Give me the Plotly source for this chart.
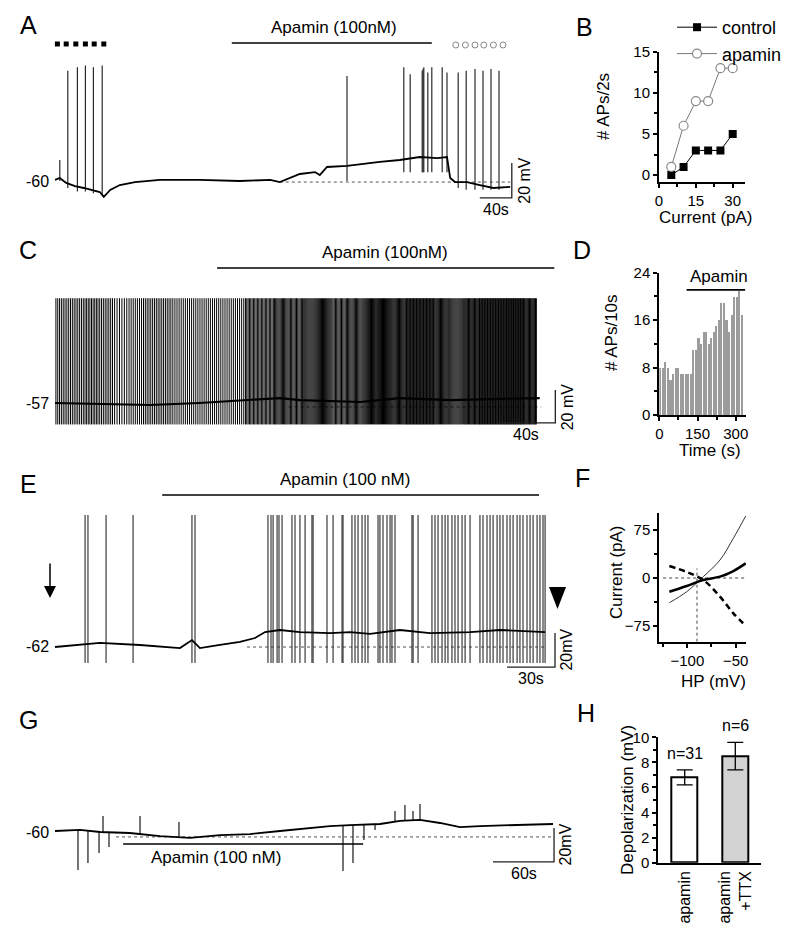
import numpy as np
import plotly.graph_objects as go

W, H = 800, 947
OFF = 8  # page offset of the figure inside the browser window
FONT = "Liberation Sans, Arial, sans-serif"

# ================= DATA =================
# ---- Panel A: membrane potential (mV) vs time (s) ----
a_base_t = [0, 6, 14, 25, 36, 46, 56, 61, 69, 81, 100, 131, 181, 231, 269, 281, 306, 325, 331, 340,
            365, 406, 431, 456, 478, 490, 494, 500, 515, 531, 548, 569]
a_base_v = [-59.4, -58.3, -61.1, -62.9, -64.0, -65.1, -66.3, -69.1, -65.1, -62.3, -60.6, -59.4, -59.4,
            -60.0, -59.4, -60.6, -56.0, -54.9, -56.6, -52.0, -51.4, -49.1, -48.0, -46.3, -46.9, -46.3,
            -58.3, -60.6, -60.6, -62.3, -64.0, -63.4]
a_spk_t = [6, 16, 28, 38, 48, 59, 365, 436, 444, 459, 460, 461, 466, 471, 484, 490,
           504, 514, 525, 535, 545, 555]
a_spk_peak = [-48, 3, 5, 6, 5, 6, 0, 5, 1, 3, 4, 5, 2, 5, 5, 2, 2, 3, 4, 3, 4, 3]
a_spk_trough = [-60, -64, -66, -66, -67, -68, -60, -55, -55, -55, -55, -55, -55, -55, -55, -55,
                -64, -65, -65, -65, -65, -65]
a_ctrl_marks_t = [3, 14, 26, 38, 49, 61]
a_apa_marks_t = [501, 513, 525, 536, 548, 560]
a_apamin_on, a_apamin_off = 221, 471

# ---- Panel B ----
b_current = [5, 10, 15, 20, 25, 30]
b_control = [0, 1, 3, 3, 3, 5]
b_apamin = [1, 6, 9, 9, 13, 13]

# ---- Panel C ----
c_base_t = [0, 65, 99, 154, 168, 209, 236, 271, 332]
c_base_v = [-57.0, -58.2, -57.0, -54.0, -55.2, -56.4, -54.0, -55.2, -54.0]
c_spk_peak = 6.5
c_spk_trough = -70
c_apamin_on, c_apamin_off = 111, 342

# ---- Panel D: APs per 10 s bin ----
d_counts = [8, 8, 9, 8, 6, 7, 8, 8, 7, 7, 7, 7, 7, 11, 11, 13, 12, 14, 14, 12, 13, 14, 15, 16,
            19, 19, 16, 14, 17, 20, 20, 21, 17]
d_bin_width = 10
d_apamin_on, d_apamin_off = 107, 337

# ---- Panel E ----
e_base_t = [0, 15.6, 28.1, 53.1, 78.1, 85.6, 90.6, 103.1, 115.6, 125, 131.3, 140.6, 153.1, 171.9,
            184.4, 196.9, 215.6, 234.4, 259.4, 278.1, 306.3]
e_base_v = [-62.6, -61.4, -60.2, -61.4, -63.2, -58.5, -63.2, -61.4, -59.6, -57.3, -53.8, -52.6, -53.8,
            -54.4, -53.8, -54.9, -52.6, -54.4, -53.8, -52.6, -53.8]
e_spk_t = [18.8, 20.6, 31.9, 48.8, 85.6, 87.5, 133.1, 135, 136.3, 138.8, 140, 141.9, 148.1, 150, 153.1,
           156.3, 160.6, 161.3, 170, 173.8, 179.4, 180, 185.6, 187.5, 189.4, 191.9, 193.8, 195.6,
           201.9, 203.1, 205, 207.5, 209.4, 210.6, 212.5, 223.1, 223.8, 226.9, 235.6, 237.5, 239.4,
           241.9, 243.8, 245.6, 248.1, 250, 251.9, 254.4, 256.3, 259.4, 265.6, 267.5, 270, 271.9,
           273.8, 276.3, 278.1, 280, 282.5, 284.4, 286.3, 288.8, 290.6, 292.5, 295, 296.9, 298.8,
           301.3, 303.1, 305, 306.3]
e_spk_peak = 15
e_spk_trough = -72
e_apamin_on, e_apamin_off = 67, 302.5

# ---- Panel F: I-V ----
f_hp = [-118.6, -100.7, -83.5, -66.2, -52.4, -39.6]
f_thin = [-38.6, -21.4, 2.1, 28.1, 62.0, 96.9]
f_thick = [-21.4, -12.5, -3.1, 2.1, 10.9, 22.9]
f_dashed = [18.7, 9.4, -3.1, -29.2, -55.2, -74.5]
f_reversal = -90

# ---- Panel G ----
g_base_t = [0, 24.6, 44.2, 73.7, 103.2, 132.7, 162.2, 191.7, 221.2, 240.9, 270.4, 290.1, 319.6,
            339.3, 358.9, 378.6, 398.2, 417.9, 457.2, 489.7]
g_base_v = [-59.4, -58.8, -60.0, -60.6, -62.4, -63.5, -61.8, -61.2, -59.4, -58.2, -56.5, -55.9,
            -55.3, -53.5, -52.9, -54.7, -57.1, -56.5, -55.9, -55.3]
g_evt_t = [22.6, 32.4, 43.3, 53.1, 283.2, 293.0, 303.8, 314.7, 47.2, 83.6, 121.9, 334.3, 344.1, 352.0, 358.9]
g_evt_tip = [-82.4, -78.2, -72.4, -68.8, -82.9, -78.2, -64.7, -58.8, -50.6, -50.6, -54.1, -47.6, -44.1, -47.6, -43.5]
g_apamin_on, g_apamin_off = 67, 303

# ---- Panel H ----
h_groups = ["apamin", "apamin<br>+TTX"]
h_mean = [6.8, 8.5]
h_sem = [0.6, 1.1]
h_n = ["n=31", "n=6"]

# ================= HELPERS =================
def px(x):
    return (x - OFF) / W

def py(y):
    return 1 - (y - OFF) / H

def xd(a, b):
    return [px(a), px(b)]

def yd(top, bot):
    return [py(bot), py(top)]

def trace_axes(box, px0, pxs, py0, v0, pyv):
    xl, xr, yt, yb = box
    xa = dict(domain=xd(xl, xr), range=[(xl - px0) / pxs, (xr - px0) / pxs], visible=False, fixedrange=True)
    ya = dict(domain=yd(yt, yb), range=[v0 - (yb - py0) / pyv, v0 + (py0 - yt) / pyv], visible=False,
              fixedrange=True)
    return xa, ya

def spikes_xy(ts, peaks, troughs):
    xs, ys = [], []
    for t, p, q in zip(ts, peaks, troughs):
        xs += [t, t, None]
        ys += [q, p, None]
    return xs, ys

def axstyle(**kw):
    d = dict(showline=True, linecolor="black", linewidth=2, ticks="outside", ticklen=4, tickwidth=1.5,
             tickcolor="black", showgrid=False, zeroline=False, tickfont=dict(size=15, color="black"),
             fixedrange=True, automargin=False)
    d.update(kw)
    return d

MINOR = dict(ticks="outside", ticklen=3, tickwidth=1.5, tickcolor="black")

fig = go.Figure()
ann = []
shapes = []
SPK = "#2a2a2a"

def note(**kw):
    d = dict(showarrow=False, xanchor="center", yanchor="middle")
    d.update(kw)
    ann.append(d)

def add_line(x, y, ax, color="black", width=1, dash=None, shape="linear"):
    fig.add_trace(go.Scatter(x=x, y=y, mode="lines", xaxis=ax[0], yaxis=ax[1], showlegend=False,
                             hoverinfo="skip", line=dict(color=color, width=width, dash=dash, shape=shape)))

def scalebar(ax, t0, v0, dt, dv):
    add_line([t0, t0 + dt, t0 + dt], [v0, v0, v0 + dv], ax, color="#222", width=1.3)

# ================= PANEL A =================
AX = ("x", "y")
xa1, ya1 = trace_axes((20, 578, 15, 225), 55, 0.8, 181, -60, 1.75)
add_line([281, 569], [-60.6, -60.6], AX, color="#555", width=1, dash="dot")
sx, sy = spikes_xy(a_spk_t, a_spk_peak, a_spk_trough)
add_line(sx, sy, AX, color=SPK, width=1.2)
add_line(a_base_t, a_base_v, AX, width=1.8)
fig.add_trace(go.Scatter(x=a_ctrl_marks_t, y=[18.3] * len(a_ctrl_marks_t), mode="markers", xaxis="x", yaxis="y",
                         showlegend=False, hoverinfo="skip",
                         marker=dict(symbol="square", size=5, color="black")))
fig.add_trace(go.Scatter(x=a_apa_marks_t, y=[17.7] * len(a_apa_marks_t), mode="markers", xaxis="x", yaxis="y",
                         showlegend=False, hoverinfo="skip",
                         marker=dict(symbol="circle-open", size=6, color="#888", line=dict(width=1))))
add_line([a_apamin_on, a_apamin_off], [18.9, 18.9], AX, width=1.6)
note(x=(a_apamin_on + a_apamin_off) / 2 + 3, y=18.9, xref="x", yref="y", text="Apamin (100nM)",
     yanchor="bottom", yshift=4, font=dict(size=17))
scalebar(AX, 531, -69.7, 40, 20)
note(x=551, y=-69.7, xref="x", yref="y", text="40s", yanchor="top", yshift=-1, font=dict(size=16))
note(x=571, y=-59.7, xref="x", yref="y", text="20 mV", textangle=-90, xanchor="left", xshift=2,
     font=dict(size=16))
note(x=px(51), y=-60, xref="paper", yref="y", text="-60", xanchor="right", font=dict(size=16))

# ================= PANEL B =================
fig.add_trace(go.Scatter(x=b_current, y=b_control, mode="lines+markers", name="control", xaxis="x2", yaxis="y2",
                         line=dict(color="black", width=1),
                         marker=dict(symbol="square", size=8, color="black")))
fig.add_trace(go.Scatter(x=b_current, y=b_apamin, mode="lines+markers", name="apamin", xaxis="x2", yaxis="y2",
                         line=dict(color="#777", width=1),
                         marker=dict(symbol="circle", size=9, color="white", line=dict(color="#888", width=1.2))))
xa2 = axstyle(domain=xd(659, 745), range=[0, 35], tickvals=[0, 15, 30],
              minor=dict(tickvals=[7.5, 22.5], **MINOR), anchor="y2")
ya2 = axstyle(domain=yd(51.7, 181.7), range=[-0.8, 15], tickvals=[0, 5, 10, 15],
              minor=dict(tickvals=[2.5, 7.5, 12.5], **MINOR), anchor="x2")
note(x=px(604), y=py(107), xref="paper", yref="paper", text="# APs/2s", textangle=-90, font=dict(size=17))
note(x=px(706), y=py(217), xref="paper", yref="paper", text="Current (pA)", font=dict(size=17))

# ================= PANEL C =================
AX = ("x3", "y3")
xa3, ya3 = trace_axes((20, 578, 235, 455), 55, 1.46, 403, -57, 1.65)
c_spk_t = []
for i, n in enumerate(d_counts):
    for k in range(n):
        c_spk_t.append(i * d_bin_width + (k + 0.5) * d_bin_width / n)
sx, sy = spikes_xy(c_spk_t, [c_spk_peak] * len(c_spk_t), [c_spk_trough] * len(c_spk_t))
add_line([160, 333], [-59.4, -59.4], AX, color="#555", width=1, dash="dot")
add_line(sx, sy, AX, color="black", width=1.0)
add_line(c_base_t, c_base_v, AX, width=2.2)
add_line([c_apamin_on, c_apamin_off], [24.8, 24.8], AX, width=1.6)
note(x=226, y=24.8, xref="x3", yref="y3", text="Apamin (100nM)", yanchor="bottom", yshift=4, font=dict(size=17))
scalebar(AX, 302.7, -69.1, 40, 20)
note(x=322.7, y=-69.1, xref="x3", yref="y3", text="40s", yanchor="top", yshift=-1, font=dict(size=16))
note(x=342.7, y=-59.1, xref="x3", yref="y3", text="20 mV", textangle=-90, xanchor="left", xshift=2,
     font=dict(size=16))
note(x=px(51), y=-57, xref="paper", yref="y3", text="-57", xanchor="right", font=dict(size=16))

# ================= PANEL D =================
d_x = [i * d_bin_width + d_bin_width / 2 for i in range(len(d_counts))]
fig.add_trace(go.Bar(x=d_x, y=d_counts, width=d_bin_width * 0.82, xaxis="x4", yaxis="y4", showlegend=False,
                     marker=dict(color="#9c9c9c", line=dict(width=0)), hoverinfo="skip"))
fig.add_trace(go.Scatter(x=[d_apamin_on, d_apamin_off], y=[21.1, 21.1], mode="lines", xaxis="x4", yaxis="y4",
                         showlegend=False, hoverinfo="skip", line=dict(color="black", width=1.6)))
xa4 = axstyle(domain=xd(659.3, 745.7), range=[0, 339], tickvals=[0, 150, 300],
              minor=dict(tickvals=[75, 225], **MINOR), anchor="y4")
ya4 = axstyle(domain=yd(272.7, 415), range=[0, 24], tickvals=[0, 8, 16, 24],
              minor=dict(tickvals=[4, 12, 20], **MINOR), anchor="x4")
note(x=236, y=21.1, xref="x4", yref="y4", text="Apamin", yanchor="bottom", yshift=2, font=dict(size=17))
note(x=px(611), y=py(333), xref="paper", yref="paper", text="# APs/10s", textangle=-90, font=dict(size=17))
note(x=px(710), y=py(451), xref="paper", yref="paper", text="Time (s)", font=dict(size=17))

# ================= PANEL E =================
AX = ("x5", "y5")
xa5, ya5 = trace_axes((20, 578, 470, 690), 55, 1.6, 646, -62, 1.7)
add_line([120, 307], [-62.6, -62.6], AX, color="#555", width=1, dash="dot")
sx, sy = spikes_xy(e_spk_t, [e_spk_peak] * len(e_spk_t), [e_spk_trough] * len(e_spk_t))
add_line(sx, sy, AX, color=SPK, width=1.1)
add_line(e_base_t, e_base_v, AX, width=1.8)
add_line([e_apamin_on, e_apamin_off], [26.8, 26.8], AX, width=1.6)
note(x=181, y=26.8, xref="x5", yref="y5", text="Apamin (100 nM)", yanchor="bottom", yshift=4, font=dict(size=17))
scalebar(AX, 282.5, -74.4, 30, 20)
note(x=297.5, y=-74.4, xref="x5", yref="y5", text="30s", yanchor="top", yshift=-1, font=dict(size=16))
note(x=312.5, y=-64.4, xref="x5", yref="y5", text="20mV", textangle=-90, xanchor="left", xshift=1,
     font=dict(size=16))
note(x=px(51), y=-62, xref="paper", yref="y5", text="-62", xanchor="right", font=dict(size=16))
ann.append(dict(x=px(50), y=py(598), ax=0, ay=-36, xref="paper", yref="paper", text="", showarrow=True,
                arrowhead=2, arrowsize=1.6, arrowwidth=1.5, arrowcolor="black"))
shapes.append(dict(type="path", xref="paper", yref="paper", fillcolor="black", line=dict(width=0),
                   path=f"M {px(549)},{py(587)} L {px(566)},{py(587)} L {px(557.5)},{py(609)} Z"))

# ================= PANEL F =================
fig.add_trace(go.Scatter(x=[-125, -40], y=[0, 0], mode="lines", xaxis="x6", yaxis="y6", showlegend=False,
                         hoverinfo="skip", line=dict(color="#444", width=1, dash="dot")))
fig.add_trace(go.Scatter(x=[f_reversal, f_reversal], y=[-99.5, 15], mode="lines", xaxis="x6", yaxis="y6",
                         showlegend=False, hoverinfo="skip", line=dict(color="#444", width=1, dash="dot")))
fig.add_trace(go.Scatter(x=f_hp, y=f_thin, mode="lines", xaxis="x6", yaxis="y6", showlegend=False,
                         hoverinfo="skip", line=dict(color="#333", width=1, shape="spline")))
fig.add_trace(go.Scatter(x=f_hp, y=f_thick, mode="lines", xaxis="x6", yaxis="y6", showlegend=False,
                         hoverinfo="skip", line=dict(color="black", width=2.5, shape="spline")))
fig.add_trace(go.Scatter(x=f_hp, y=f_dashed, mode="lines", xaxis="x6", yaxis="y6", showlegend=False,
                         hoverinfo="skip", line=dict(color="black", width=2.5, dash="6px,4px", shape="spline")))
xa6 = axstyle(domain=xd(659.3, 746), range=[-129, -39.3], tickvals=[-100, -50],
              minor=dict(tickvals=[-125, -75], **MINOR), anchor="y6")
ya6 = axstyle(domain=yd(513.3, 641.7), range=[-99.5, 101.1], tickvals=[-75, 0, 75],
              minor=dict(tickvals=[-37.5, 37.5], **MINOR), anchor="x6")
note(x=px(616), y=py(572), xref="paper", yref="paper", text="Current (pA)", textangle=-90, font=dict(size=17))
note(x=px(713), y=py(681), xref="paper", yref="paper", text="HP (mV)", font=dict(size=17))

# ================= PANEL G =================
AX = ("x7", "y7")
xa7, ya7 = trace_axes((20, 578, 740, 900), 55, 1.017, 832, -60, 1.7)
add_line([60, 490], [-62.9, -62.9], AX, color="#555", width=1, dash="dot")
g_evt_base = np.interp(g_evt_t, g_base_t, g_base_v)
sx, sy = spikes_xy(g_evt_t, g_evt_tip, list(g_evt_base))
add_line(sx, sy, AX, color=SPK, width=1.3)
add_line(g_base_t, g_base_v, AX, width=1.8)
add_line([g_apamin_on, g_apamin_off], [-67.1, -67.1], AX, width=1.6)
note(x=158, y=-67.1, xref="x7", yref="y7", text="Apamin (100 nM)", yanchor="top", yshift=-2, font=dict(size=17))
scalebar(AX, 430.7, -77.6, 60, 20)
note(x=460.7, y=-77.6, xref="x7", yref="y7", text="60s", yanchor="top", yshift=-1, font=dict(size=16))
note(x=490.7, y=-67.6, xref="x7", yref="y7", text="20mV", textangle=-90, xanchor="left", xshift=1,
     font=dict(size=16))
note(x=px(51), y=-60, xref="paper", yref="y7", text="-60", xanchor="right", font=dict(size=16))

# ================= PANEL H =================
fig.add_trace(go.Bar(x=[1, 2], y=h_mean, width=0.514, xaxis="x8", yaxis="y8", showlegend=False, hoverinfo="skip",
                     marker=dict(color=["white", "#d2d2d2"], line=dict(color="black", width=2)),
                     error_y=dict(type="data", array=h_sem, color="black", thickness=1.3, width=8)))
xa8 = axstyle(domain=xd(658.3, 760.7), range=[0.478, 2.502], tickvals=[1, 2], ticktext=h_groups,
              tickangle=-90, ticks="", tickfont=dict(size=16, color="black"), anchor="y8")
ya8 = axstyle(domain=yd(737.3, 862.7), range=[0, 10], tickvals=[0, 2, 4, 6, 8, 10],
              minor=dict(tickvals=[1, 3, 5, 7, 9], **MINOR), anchor="x8")
for xi, m, s, lab in zip([1, 2], h_mean, h_sem, h_n):
    note(x=xi, y=m + s, xref="x8", yref="y8", text=lab, yanchor="bottom", yshift=6, font=dict(size=16))
note(x=px(627), y=py(800), xref="paper", yref="paper", text="Depolarization (mV)", textangle=-90,
     font=dict(size=17))

# ================= PANEL LETTERS =================
for L, xx, yy in [("A", 28, 25), ("B", 584, 27), ("C", 28, 250), ("D", 582, 250),
                  ("E", 28, 484), ("F", 582, 478), ("G", 28, 720), ("H", 586, 713)]:
    note(x=px(xx), y=py(yy), xref="paper", yref="paper", text=L, font=dict(size=25))

fig.update_layout(
    width=W, height=H, margin=dict(l=0, r=0, t=0, b=0, pad=0, autoexpand=False),
    paper_bgcolor="white", plot_bgcolor="white",
    font=dict(family=FONT, color="black", size=16),
    showlegend=True,
    legend=dict(x=px(672), y=py(9), xanchor="left", yanchor="top", bgcolor="rgba(0,0,0,0)",
                font=dict(size=18), tracegroupgap=0, itemwidth=40),
    xaxis=xa1, yaxis=ya1, xaxis2=xa2, yaxis2=ya2, xaxis3=xa3, yaxis3=ya3, xaxis4=xa4, yaxis4=ya4,
    xaxis5=xa5, yaxis5=ya5, xaxis6=xa6, yaxis6=ya6, xaxis7=xa7, yaxis7=ya7, xaxis8=xa8, yaxis8=ya8,
    annotations=ann, shapes=shapes, bargap=0,
)
for k, a in [("xaxis", "y"), ("xaxis3", "y3"), ("xaxis5", "y5"), ("xaxis7", "y7")]:
    fig.layout[k].anchor = a

fig.write_html("out.html")
